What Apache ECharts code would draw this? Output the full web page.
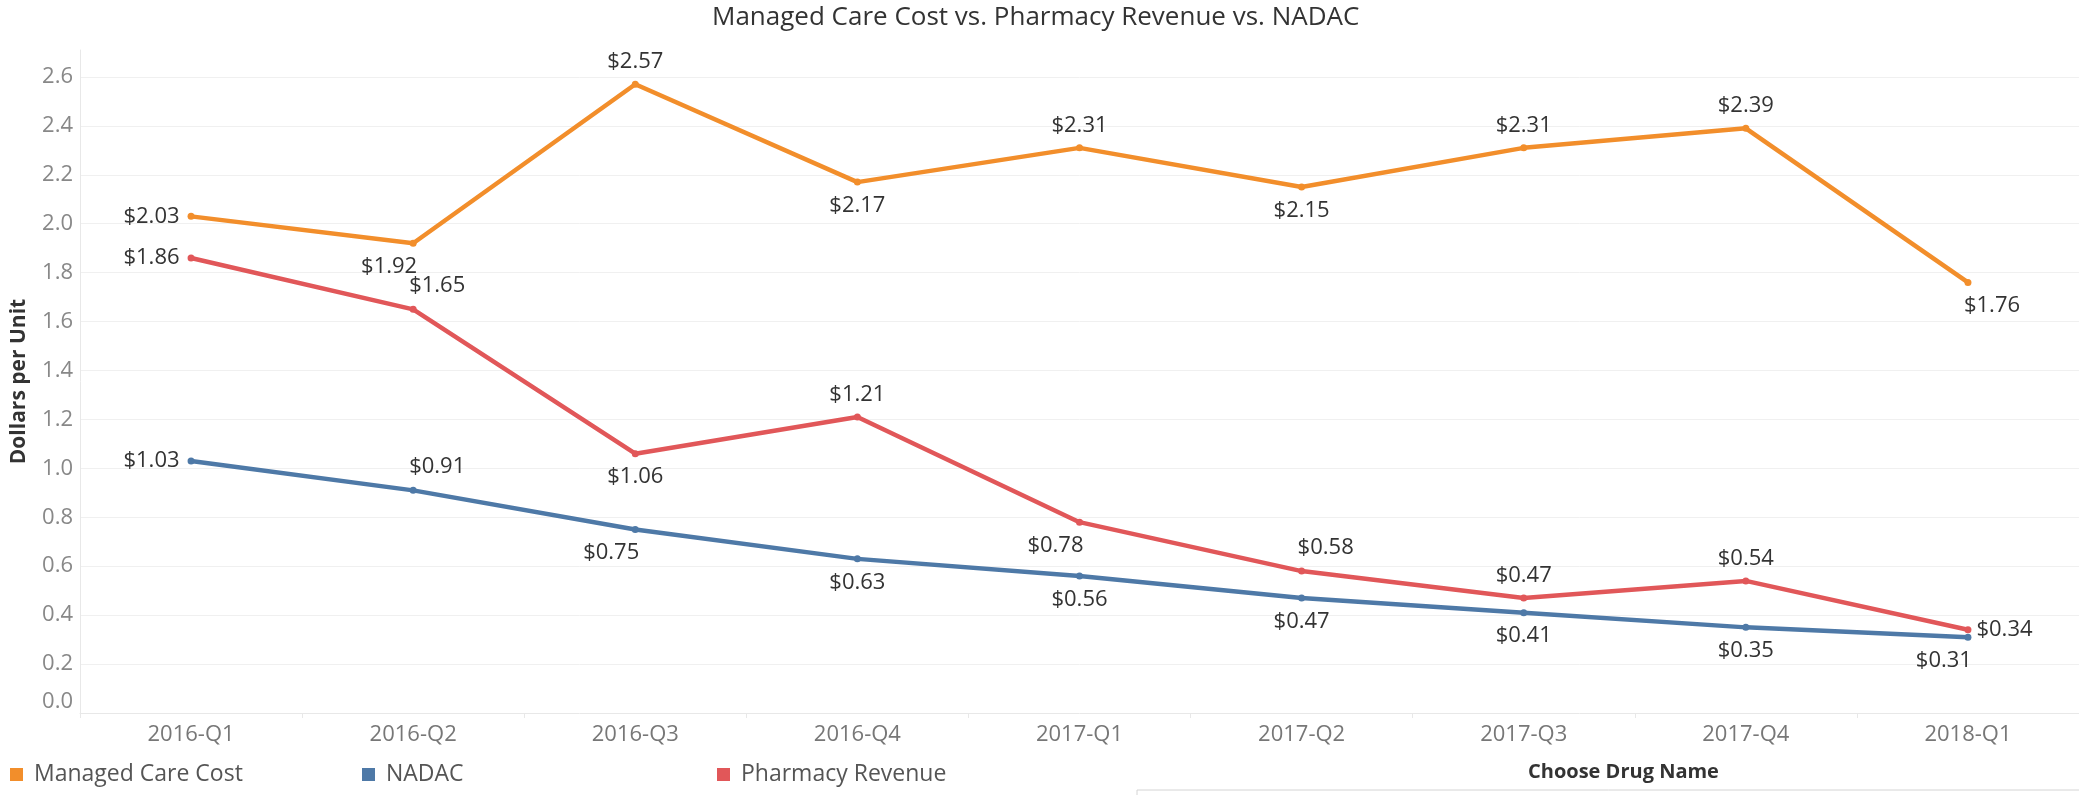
<!DOCTYPE html>
<html>
<head>
<meta charset="utf-8">
<script src="https://cdn.jsdelivr.net/npm/echarts@6/dist/echarts.min.js"></script>
<style>
  html, body { margin: 0; padding: 0; background: #fff; }
  #main { width: 2079px; height: 795px; }
</style>
</head>
<body>
<div id="main"></div>
<script>
// data
const quarters = ['2016-Q1', '2016-Q2', '2016-Q3', '2016-Q4', '2017-Q1', '2017-Q2', '2017-Q3', '2017-Q4', '2018-Q1'];
const managedCareCost = [2.03, 1.92, 2.57, 2.17, 2.31, 2.15, 2.31, 2.39, 1.76];
const nadac = [1.03, 0.91, 0.75, 0.63, 0.56, 0.47, 0.41, 0.35, 0.31];
const pharmacyRevenue = [1.86, 1.65, 1.06, 1.21, 0.78, 0.58, 0.47, 0.54, 0.34];

// where each value label sits relative to its point
const managedCareLabelPos = ['left', 'bottomLeft', 'top', 'bottom', 'top', 'bottom', 'top', 'top', 'bottomRight'];
const nadacLabelPos = ['left', 'topRight', 'bottomLeft', 'bottom', 'bottom', 'bottom', 'bottom', 'bottom', 'bottomLeft'];
const pharmacyLabelPos = ['left', 'topRight', 'bottom', 'top', 'bottomLeft', 'topRight', 'top', 'top', 'right'];

const FONT = 'Open Sans';

function labelFor(pos) {
    // Tableau-ish corner placement
    switch (pos) {
        case 'left': return { position: 'left', distance: 8 };
        case 'right': return { position: 'right', distance: 5 };
        case 'top': return { position: 'top', distance: 8 };
        case 'bottom': return { position: 'bottom', distance: 9 };
        case 'topRight': return { position: 'top', align: 'left', distance: 9, offset: [-4, 0] };
        case 'bottomLeft': return { position: 'bottom', align: 'right', distance: 9, offset: [4, 0] };
        case 'bottomRight': return { position: 'bottom', align: 'left', distance: 9, offset: [-4, 0] };
    }
    return {};
}

function makeSeries(name, values, placement, color) {
    return {
        name: name,
        type: 'line',
        symbol: 'circle',
        symbolSize: 7,
        itemStyle: { color: color },
        lineStyle: { width: 4.5, color: color },
        label: {
            show: true,
            color: '#333',
            fontFamily: FONT,
            fontSize: 22,
            formatter: p => '$' + p.value.toFixed(2)
        },
        data: values.map((v, i) => ({ value: v, label: labelFor(placement[i]) }))
    };
}

var myChart = echarts.init(document.getElementById('main'));

var legendBase = {
    top: 763,
    padding: 0,
    icon: 'rect',
    itemWidth: 13,
    itemHeight: 13,
    textStyle: { fontFamily: FONT, fontSize: 23, color: '#555', padding: [0, 0, 0, 6] }
};

var option = {
    animation: false,
    backgroundColor: '#fff',
    title: {
        text: 'Managed Care Cost vs. Pharmacy Revenue vs. NADAC',
        left: 712,
        top: 5,
        padding: 0,
        textStyle: { fontFamily: FONT, fontSize: 26, fontWeight: 'normal', color: '#333' }
    },
    legend: [
        Object.assign({ data: ['Managed Care Cost'], left: 10 }, legendBase),
        Object.assign({ data: ['NADAC'], left: 362 }, legendBase),
        Object.assign({ data: ['Pharmacy Revenue'], left: 717 }, legendBase)
    ],
    grid: { left: 80, top: 50, width: 2030, height: 663 },
    xAxis: {
        type: 'category',
        data: quarters,
        axisLine: { lineStyle: { color: '#e8e8e8', width: 1 } },
        axisTick: { show: true, length: 5, lineStyle: { color: '#e8e8e8' } },
        axisLabel: { fontFamily: FONT, fontSize: 22, color: '#777', margin: 11 },
        splitLine: { show: false }
    },
    yAxis: {
        type: 'value',
        min: 0,
        max: 2.71,
        interval: 0.2,
        name: 'Dollars per Unit',
        nameLocation: 'middle',
        nameGap: 50,
        nameTextStyle: { fontFamily: FONT, fontSize: 21, fontWeight: 'bold', color: '#333' },
        axisLine: { show: true, lineStyle: { color: '#e8e8e8' } },
        axisTick: { show: false },
        axisLabel: {
            fontFamily: FONT, fontSize: 22, color: '#888', margin: 7,
            showMaxLabel: false,
            verticalAlignMinLabel: 'bottom',
            formatter: v => v.toFixed(1)
        },
        splitLine: { show: true, showMaxLine: false, showMinLine: false, lineStyle: { color: '#f0f0f0' } }
    },
    graphic: [
        {
            type: 'text',
            left: 1528,
            top: 762,
            style: { text: 'Choose Drug Name', fontFamily: FONT, fontSize: 20, fontWeight: 'bold', fill: '#333' }
        },
        {
            type: 'rect',
            shape: { x: 1137, y: 790, width: 960, height: 30 },
            style: { fill: '#fff', stroke: '#d4d4d4', lineWidth: 1 }
        }
    ],
    series: [
        makeSeries('Managed Care Cost', managedCareCost, managedCareLabelPos, '#F28E2B'),
        makeSeries('Pharmacy Revenue', pharmacyRevenue, pharmacyLabelPos, '#E15759'),
        makeSeries('NADAC', nadac, nadacLabelPos, '#4E79A7')
    ]
};

myChart.setOption(option);
</script>
</body>
</html>
